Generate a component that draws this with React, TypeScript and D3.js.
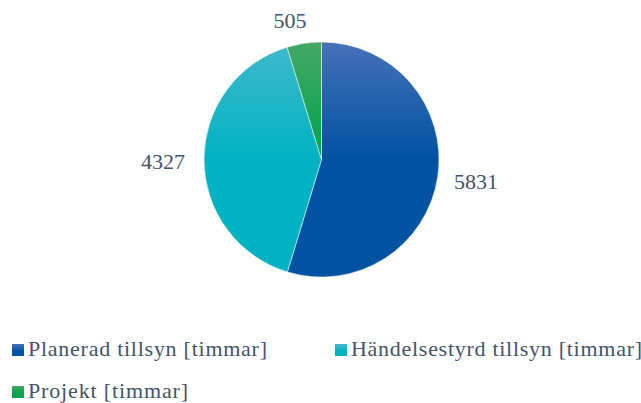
import * as React from 'react';
import { pie, arc, PieArcDatum } from 'd3';

const categories = ['Planerad tillsyn [timmar]', 'Händelsestyrd tillsyn [timmar]', 'Projekt [timmar]'];
const values = [5831, 4327, 505];
const topColors = ['#4671b9', '#40b9cb', '#44a865'];
const baseColors = ['#0052a2', '#00b2c2', '#00a24e'];

interface Slice {
    name: string;
    value: number;
    idx: number;
}

const W = 641;
const H = 403;
const cx = 321.5;
const cy = 159.5;
const R = 117.5;
const textColor = '#44546a';
const serif = "Liberation Serif, Tinos, Nimbus Roman, DejaVu Serif, serif";

// label anchors (outside end positions as in the original)
const labelPos = [
    { x: 476, y: 189 },
    { x: 163, y: 169 },
    { x: 290, y: 28 },
];
// legend placement: x, baseline, width of the text run
const legendPos = [
    { x: 12, y: 356, w: 239 },
    { x: 335, y: 356, w: 291 },
    { x: 12, y: 398, w: 160 },
];

export default function App() {
    const data: Slice[] = categories.map((name, idx) => ({ name, value: values[idx], idx }));
    const arcs = pie<Slice>().sort(null).value((d) => d.value)(data);
    const arcGen = arc<PieArcDatum<Slice>>().innerRadius(0).outerRadius(R);

    return (
        <svg width={W} height={H} style={{ position: 'absolute', left: 0, top: 0 }} fontFamily={serif}>
            <defs>
                {data.map((d) => (
                    <linearGradient key={d.idx} id={`g${d.idx}`} gradientUnits="userSpaceOnUse"
                        x1={0} y1={-R} x2={0} y2={0}>
                        <stop offset="0" stopColor={topColors[d.idx]} />
                        <stop offset="1" stopColor={baseColors[d.idx]} />
                    </linearGradient>
                ))}
                {data.map((d) => (
                    <linearGradient key={d.idx} id={`lg${d.idx}`} x1={0} y1={0} x2={0} y2={1}>
                        <stop offset="0" stopColor={topColors[d.idx]} />
                        <stop offset="0.6" stopColor={baseColors[d.idx]} />
                    </linearGradient>
                ))}
            </defs>
            <g transform={`translate(${cx},${cy})`}>
                {arcs.map((a) => (
                    <path key={a.data.idx} d={arcGen(a) || ''} fill={`url(#g${a.data.idx})`}
                        stroke="#ffffff" strokeWidth={0.5} />
                ))}
            </g>
            {arcs.map((a) => (
                <text key={a.data.idx} x={labelPos[a.data.idx].x} y={labelPos[a.data.idx].y}
                    textAnchor="middle" fontSize={22} fill={textColor}>
                    {a.data.value}
                </text>
            ))}
            {/* legend */}
            {data.map((d) => {
                const p = legendPos[d.idx];
                return (
                    <g key={d.idx}>
                        <rect x={p.x} y={p.y - 12} width={12} height={12} fill={`url(#lg${d.idx})`} />
                        <text x={p.x + 16} y={p.y} fontSize={22} fill={textColor}
                            textLength={p.w} lengthAdjust="spacing">
                            {d.name}
                        </text>
                    </g>
                );
            })}
        </svg>
    );
}
